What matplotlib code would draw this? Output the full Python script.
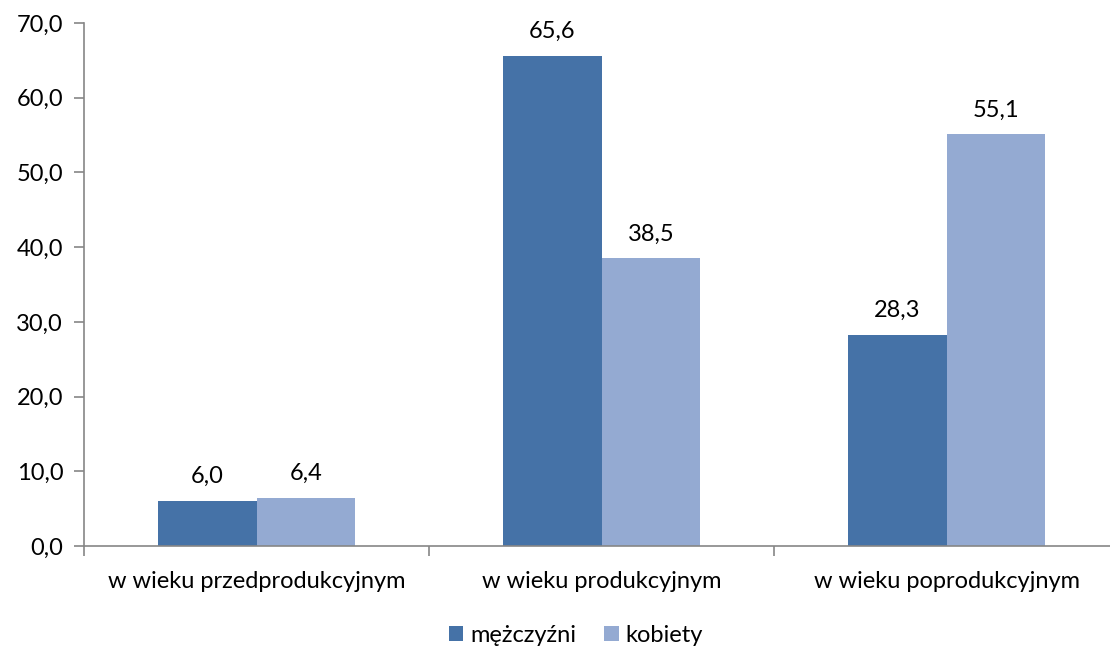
import matplotlib
matplotlib.use("Agg")
import matplotlib.pyplot as plt
import numpy as np

categories = ["w wieku przedprodukcyjnym", "w wieku produkcyjnym", "w wieku poprodukcyjnym"]
series_names = ["mężczyźni", "kobiety"]
men = [6.0, 65.6, 28.3]
women = [6.4, 38.5, 55.1]
yticks = [0, 10, 20, 30, 40, 50, 60, 70]

plt.rcParams['font.family'] = ['Lato', 'DejaVu Sans']

fig = plt.figure(figsize=(11.1, 6.48), dpi=100)
W, H = 1110, 648
left, right, top, bottom = 84, 1119, 23, 546
ax = fig.add_axes([left / W, 1 - bottom / H, (right - left) / W, (bottom - top) / H])

x = np.arange(len(categories))
bw = 0.286
c1, c2 = "#4572A7", "#94AAD2"
fs = 17
b1 = ax.bar(x - bw / 2, men, bw, color=c1, label=series_names[0])
b2 = ax.bar(x + bw / 2, women, bw, color=c2, label=series_names[1])

for bars, vals in ((b1, men), (b2, women)):
    for r, v in zip(bars, vals):
        ax.annotate(f"{v:.1f}".replace(".", ","), (r.get_x() + r.get_width() / 2, v),
                    xytext=(0, 10), textcoords="offset points", ha="center", va="bottom",
                    fontsize=fs, color="black")

ax.set_xlim(-0.5, len(categories) - 0.5)
ax.set_ylim(0, 70)
ax.set_yticks(yticks)
ax.set_yticklabels([f"{v:.1f}".replace(".", ",") for v in yticks], fontsize=fs)
ax.set_xticks(x)
ax.set_xticklabels(categories, fontsize=fs)
ax.tick_params(axis='x', length=0, pad=18)
ax.set_xticks(np.arange(len(categories) + 1) - 0.5, minor=True)
ax.tick_params(axis='x', which='minor', length=7, width=1.2, color="#868686", direction='out')
ax.tick_params(axis='y', length=7, width=1.2, color="#868686", pad=8)

for s in ["top", "right"]:
    ax.spines[s].set_visible(False)
for s in ["left", "bottom"]:
    ax.spines[s].set_color("#868686")
    ax.spines[s].set_linewidth(1.2)

fig.legend(handles=[b1, b2], labels=series_names, loc="center", bbox_to_anchor=(576 / W, 1 - 635 / H),
           ncol=2, frameon=False, fontsize=fs, handlelength=0.6, handleheight=0.6,
           handletextpad=0.3, columnspacing=1.2)

fig.savefig("out.png", dpi=100)
